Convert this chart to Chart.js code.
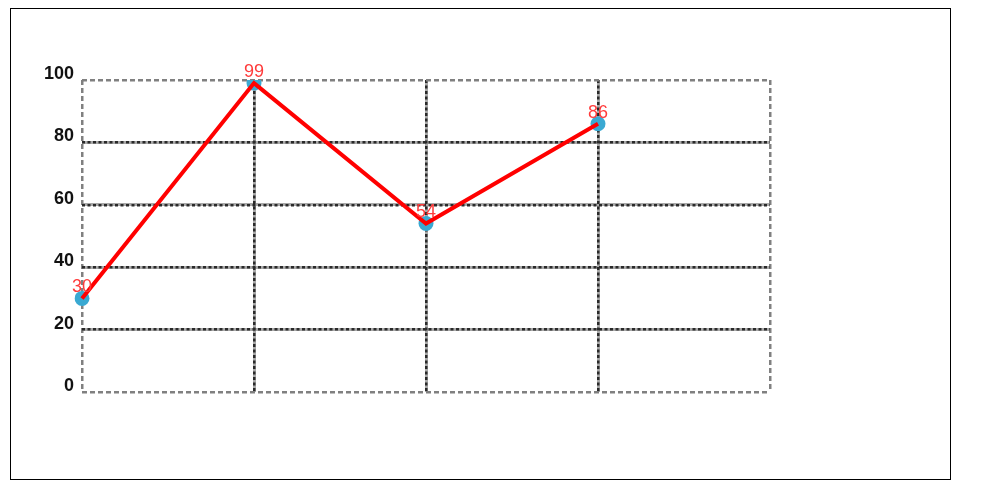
<!DOCTYPE html>
<html>
<head>
<meta charset="utf-8">
<script src="https://cdn.jsdelivr.net/npm/chart.js@4/dist/chart.umd.min.js"></script>
<style>
  body { margin: 0; background: #fff; }
  #box { position: absolute; left: 10px; top: 8px; width: 939px; height: 470px; border: 1px solid #000; }
</style>
</head>
<body>
<div id="box"><canvas id="myChart"></canvas></div>
<script>
// 類別與數值
var categories = ['A', 'B', 'C', 'D', 'E'];
var values = [30, 99, 54, 86, null];
var yTicks = [0, 20, 40, 60, 80, 100];

// 點上方的數字
var valueLabels = {
  id: 'valueLabels',
  afterDatasetsDraw: function(chart){
    var ctx = chart.ctx;
    var meta = chart.getDatasetMeta(1);
    ctx.save();
    ctx.font = '18px Arial, "Liberation Sans"';
    ctx.fillStyle = '#ff3b3b';
    ctx.textAlign = 'center';
    ctx.textBaseline = 'bottom';
    meta.data.forEach(function(pt, i){
      if (values[i] == null) return;
      ctx.fillText(values[i], pt.x, pt.y - 2);
    });
    ctx.restore();
  }
};

function isEdgeX(c){ return c.index === 0 || c.index === categories.length - 1; }
function isEdgeY(c){ return c.index === 0 || c.index === yTicks.length - 1; }
function setTicks(s){ s.ticks = yTicks.map(function(v){ return { value: v }; }); }

new Chart(document.getElementById('myChart'), {
  type: 'line',
  data: {
    labels: categories,
    datasets: [
      {
        // 點 (畫在線下面)
        data: values,
        showLine: false,
        pointRadius: 7.5,
        pointHoverRadius: 7.5,
        pointBackgroundColor: '#3aa9d2',
        pointBorderWidth: 0,
        order: 2
      },
      {
        data: values,
        borderColor: '#ff0000',
        borderWidth: 4,
        pointRadius: 0,
        fill: false,
        tension: 0,
        order: 1
      }
    ]
  },
  options: {
    responsive: true,
    maintainAspectRatio: false,
    animation: false,
    layout: { padding: { top: 71, right: 180, bottom: 87, left: 0 } },
    plugins: { legend: { display: false }, tooltip: { enabled: false } },
    scales: {
      // 底層灰線
      x2: {
        type: 'category',
        position: 'bottom',
        z: -1,
        afterFit: function(s){ s.height = 0; },
        ticks: { display: false },
        grid: {
          drawTicks: false,
          lineWidth: 3,
          color: function(c){ return isEdgeX(c) ? 'rgba(0,0,0,0)' : '#a8a8a8'; }
        },
        border: { display: false }
      },
      y2: {
        position: 'left',
        min: 0,
        max: 100,
        z: -1,
        afterFit: function(s){ s.width = 0; },
        afterBuildTicks: setTicks,
        ticks: { display: false },
        grid: {
          drawTicks: false,
          lineWidth: 3,
          color: function(c){ return isEdgeY(c) ? 'rgba(0,0,0,0)' : '#a8a8a8'; }
        },
        border: { display: false }
      },
      x: {
        ticks: { display: false },
        afterFit: function(s){ s.height = 0; },
        grid: {
          drawTicks: false,
          lineWidth: 2.5,
          color: function(c){ return isEdgeX(c) ? '#808080' : '#2a2a2a'; }
        },
        border: {
          display: false,
          dash: function(c){ return isEdgeX(c) ? [5, 3] : [3, 2.5]; }
        }
      },
      y: {
        min: 0,
        max: 100,
        afterFit: function(s){ s.width = 71; },
        afterBuildTicks: setTicks,
        ticks: {
          color: '#111',
          padding: 8,
          labelOffset: -6,
          font: { family: 'Arial, "Liberation Sans"', size: 18, weight: 'bold' }
        },
        grid: {
          drawTicks: false,
          lineWidth: 2.5,
          color: function(c){ return isEdgeY(c) ? '#808080' : '#2a2a2a'; }
        },
        border: {
          display: false,
          dash: function(c){ return isEdgeY(c) ? [5, 3] : [3, 2.5]; }
        }
      }
    }
  },
  plugins: [valueLabels]
});
</script>
</body>
</html>
